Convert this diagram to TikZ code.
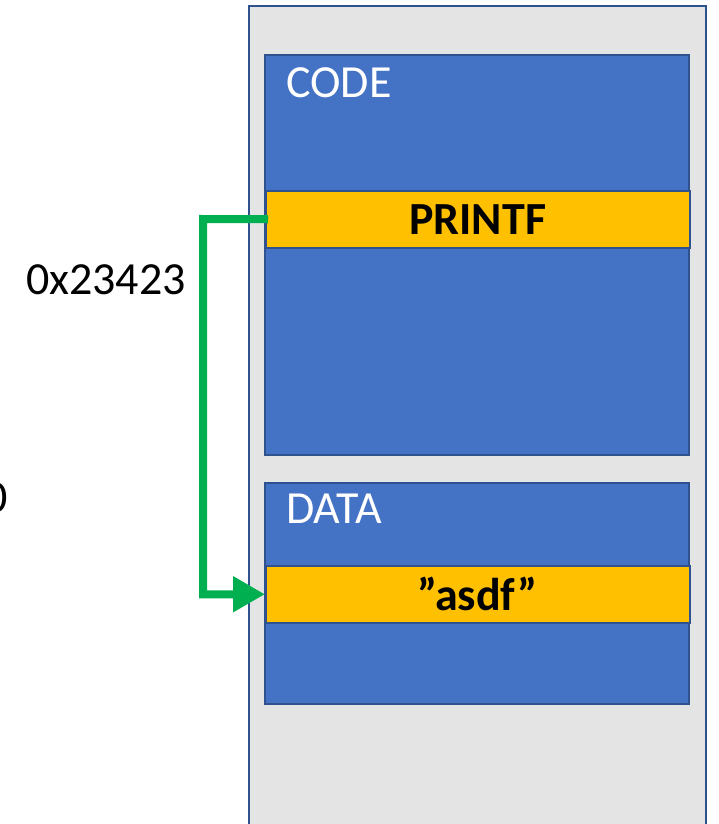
\documentclass[tikz,border=0pt]{standalone}
\usepackage{fontspec}
\setmainfont{Carlito}
\usetikzlibrary{arrows.meta}
\definecolor{segblue}{HTML}{4472C4}
\definecolor{segedge}{HTML}{2F528F}
\definecolor{bandyellow}{HTML}{FFC000}
\definecolor{memgrey}{HTML}{E4E4E4}
\definecolor{ptrgreen}{HTML}{00B050}
\tikzset{
  memory/.style={draw=segedge, fill=memgrey, line width=2pt},
  segment/.style={draw=segedge, fill=segblue, line width=2pt},
  band/.style={draw=segedge, fill=bandyellow, line width=1.5pt},
  seglabel/.style={text=white, font=\fontsize{46}{55}\selectfont, inner sep=0pt},
  bandlabel/.style={font=\bfseries\fontsize{46}{55}\selectfont, inner sep=0pt},
  plain/.style={font=\fontsize{46}{55}\selectfont, inner sep=0pt},
  pointer/.style={draw=ptrgreen, line width=8pt, -{Triangle[length=32pt,width=34pt]}}
}
\begin{document}
\begin{tikzpicture}[x=1pt,y=-1pt]
\useasboundingbox (0,0) rectangle (718,824);
\clip (0,0) rectangle (718,824);
% address space
\draw[memory] (249,6) rectangle (706,840);
% code segment
\draw[segment] (265,55) rectangle (689,455);
\node[seglabel, anchor=base west] (code) at (286,98) {CODE};
\node[band, minimum width=424pt, minimum height=57pt, inner sep=0pt, anchor=north west] (pr) at (265,190) {};
\node[bandlabel] (prt) at (pr.center) {PRINTF};
% data segment
\draw[segment] (265,483) rectangle (689,704);
\node[seglabel, anchor=base west] (data) at (286,523) {DATA};
\node[band, minimum width=424pt, minimum height=57pt, inner sep=0pt, anchor=north west] (as) at (265,565) {};
\node[bandlabel] (ast) at (as.center) {”asdf”};
% addresses on the left
\node[plain] (addr) at (106,280) {0x23423};
\node[plain, anchor=base east] (addr2) at (8,512) {0};
% pointer from the printf entry to the string
\coordinate (bend) at (203,219);
\draw[pointer, line cap=butt] ([xshift=3pt]pr.west) -- (bend) |- (as.west);
\end{tikzpicture}
\end{document}
